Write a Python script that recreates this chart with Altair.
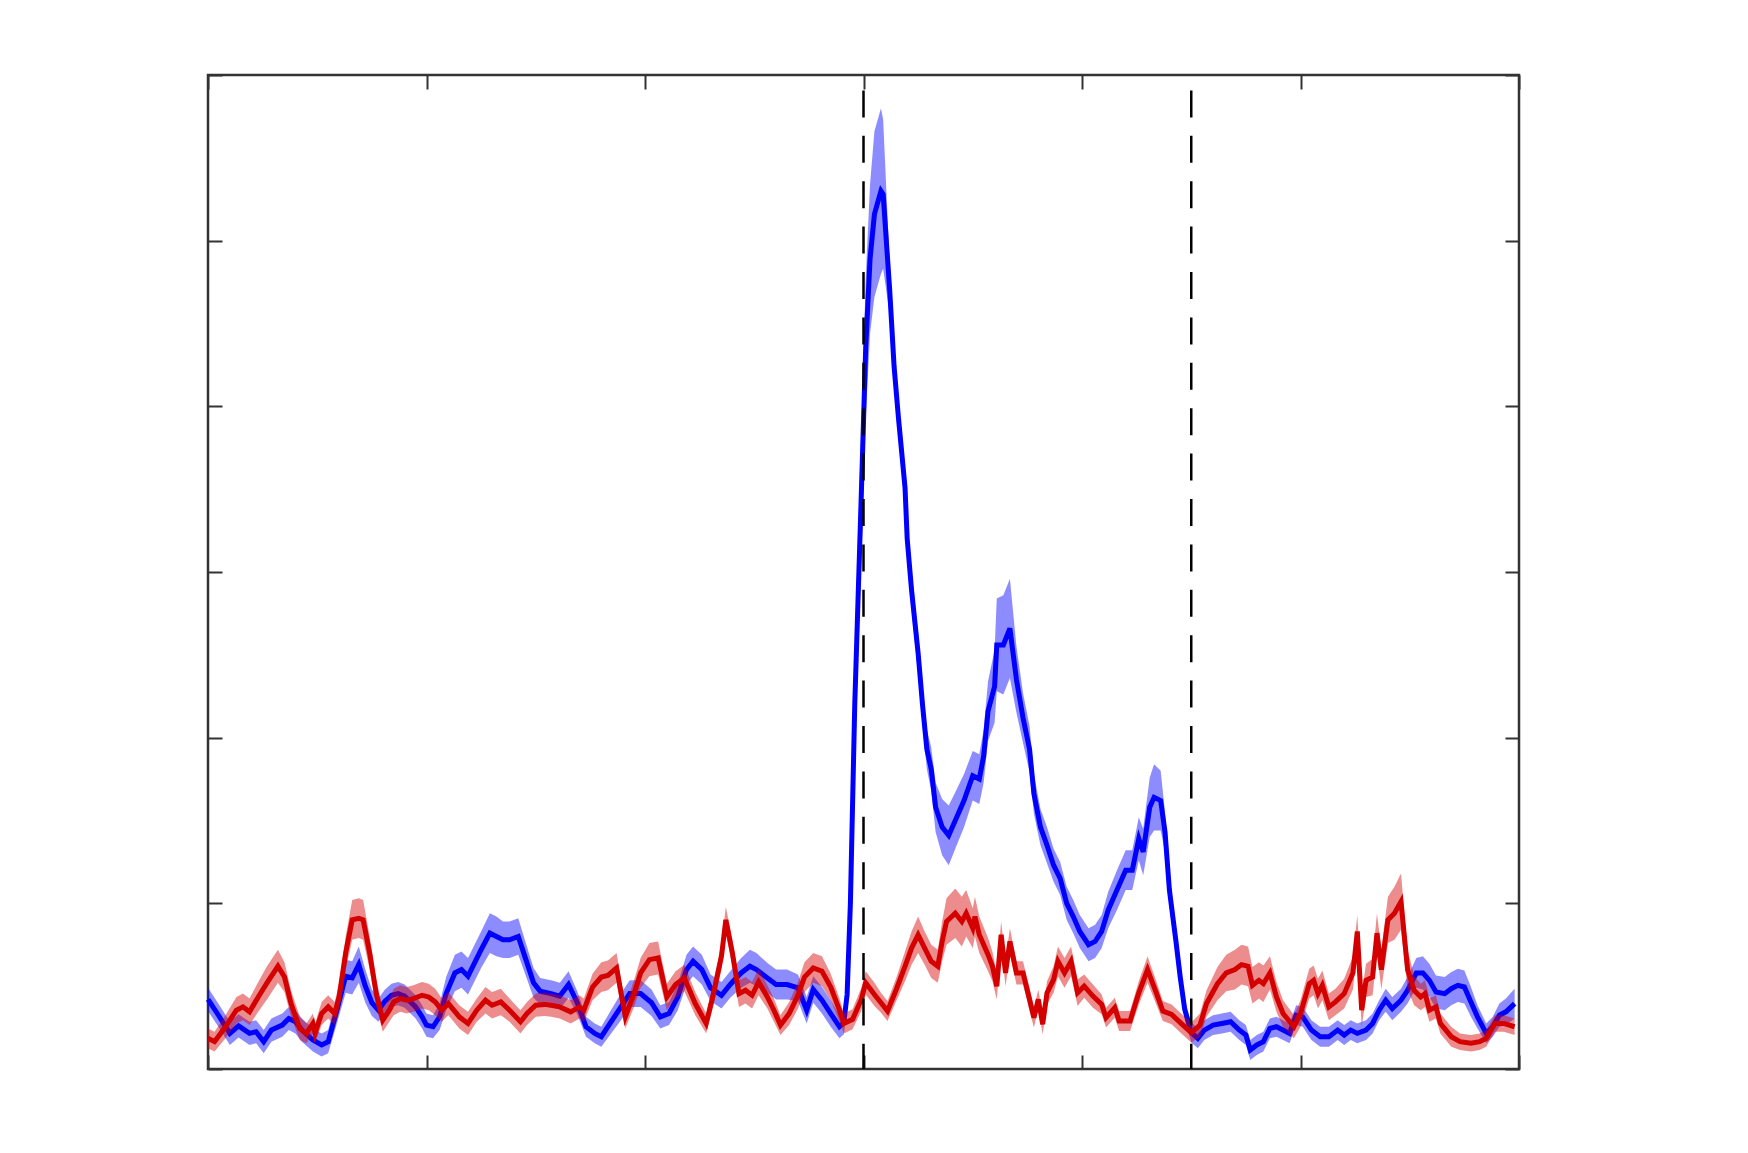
import altair as alt
import pandas as pd

# ---- data (x in 0..6 units, y in 0..6 units) ----
blue_x = [0.00, 0.05, 0.10, 0.14, 0.19, 0.22, 0.255, 0.29, 0.34, 0.37, 0.40, 0.43, 0.48, 0.52, 0.55, 0.59,
          0.63, 0.66, 0.69, 0.72, 0.75, 0.78, 0.81, 0.84, 0.87, 0.90, 0.95, 0.98, 1.00, 1.03, 1.06, 1.09,
          1.13, 1.16, 1.19, 1.22, 1.25, 1.29, 1.32, 1.35, 1.38, 1.42, 1.45, 1.49, 1.52, 1.57, 1.61, 1.65,
          1.69, 1.73, 1.77, 1.80, 1.84, 1.89, 1.93, 1.98, 2.03, 2.07, 2.11, 2.15, 2.19, 2.22, 2.26, 2.30,
          2.35, 2.39, 2.44, 2.48, 2.51, 2.56, 2.60, 2.65, 2.70, 2.74, 2.77, 2.81, 2.85, 2.89, 2.91, 2.925,
          2.94, 2.96, 2.99, 3.01, 3.03, 3.05, 3.08, 3.09, 3.12, 3.14, 3.16, 3.19, 3.20, 3.22, 3.25, 3.27,
          3.29, 3.31, 3.33, 3.36, 3.39, 3.42, 3.46, 3.50, 3.53, 3.55, 3.57, 3.60, 3.61, 3.64, 3.67, 3.70,
          3.73, 3.76, 3.78, 3.81, 3.84, 3.87, 3.90, 3.93, 3.96, 3.99, 4.03, 4.06, 4.09, 4.12, 4.16, 4.20,
          4.23, 4.26, 4.28, 4.31, 4.33, 4.36, 4.38, 4.40, 4.43, 4.45, 4.47, 4.50, 4.53, 4.56, 4.60, 4.64,
          4.68, 4.72, 4.75, 4.77, 4.80, 4.83, 4.86, 4.89, 4.92, 4.95, 4.98, 5.01, 5.05, 5.09, 5.13, 5.17,
          5.20, 5.23, 5.26, 5.30, 5.33, 5.36, 5.39, 5.42, 5.46, 5.49, 5.53, 5.56, 5.59, 5.62, 5.66, 5.69,
          5.72, 5.75, 5.78, 5.81, 5.85, 5.88, 5.91, 5.94, 5.98]
blue_y = [0.42, 0.32, 0.215, 0.26, 0.215, 0.225, 0.165, 0.235, 0.265, 0.305, 0.285, 0.235, 0.175, 0.145, 0.165, 0.355,
          0.56, 0.55, 0.63, 0.50, 0.40, 0.355, 0.41, 0.445, 0.455, 0.44, 0.375, 0.315, 0.265, 0.255, 0.315, 0.455,
          0.58, 0.60, 0.56, 0.64, 0.72, 0.82, 0.80, 0.78, 0.78, 0.80, 0.68, 0.52, 0.47, 0.455, 0.44, 0.51,
          0.40, 0.255, 0.215, 0.195, 0.275, 0.375, 0.455, 0.455, 0.40, 0.315, 0.335, 0.435, 0.60, 0.65, 0.60, 0.49,
          0.445, 0.51, 0.58, 0.62, 0.60, 0.55, 0.51, 0.51, 0.49, 0.355, 0.48, 0.415, 0.335, 0.255, 0.28, 0.45,
          1.0, 2.2, 3.47, 4.35, 4.89, 5.16, 5.30, 5.28, 4.70, 4.24, 3.93, 3.51, 3.20, 2.89, 2.51, 2.20,
          1.93, 1.81, 1.58, 1.46, 1.41, 1.50, 1.62, 1.77, 1.75, 1.89, 2.16, 2.31, 2.56, 2.56, 2.66, 2.35,
          2.12, 1.93, 1.66, 1.46, 1.35, 1.23, 1.15, 1.00, 0.92, 0.83, 0.75, 0.77, 0.83, 0.96, 1.08, 1.20,
          1.20, 1.39, 1.31, 1.58, 1.64, 1.62, 1.43, 1.08, 0.77, 0.55, 0.36, 0.22, 0.185, 0.235, 0.265, 0.275,
          0.285, 0.235, 0.205, 0.115, 0.145, 0.165, 0.245, 0.255, 0.235, 0.215, 0.325, 0.315, 0.235, 0.195, 0.195, 0.235,
          0.205, 0.235, 0.215, 0.235, 0.275, 0.355, 0.415, 0.365, 0.415, 0.475, 0.58, 0.58, 0.535, 0.465, 0.455, 0.485,
          0.505, 0.495, 0.405, 0.315, 0.215, 0.255, 0.325, 0.345, 0.395]
blue_sem = [0.07, 0.07, 0.07, 0.07, 0.07, 0.07, 0.07, 0.07, 0.07, 0.07, 0.07, 0.07, 0.07, 0.07, 0.07, 0.08,
            0.10, 0.10, 0.11, 0.10, 0.08, 0.07, 0.07, 0.07, 0.07, 0.07, 0.07, 0.07, 0.07, 0.07, 0.08, 0.10,
            0.11, 0.11, 0.11, 0.11, 0.11, 0.12, 0.12, 0.11, 0.11, 0.11, 0.10, 0.09, 0.08, 0.08, 0.08, 0.08,
            0.07, 0.06, 0.06, 0.06, 0.07, 0.08, 0.08, 0.08, 0.08, 0.07, 0.07, 0.08, 0.09, 0.09, 0.09, 0.08,
            0.08, 0.08, 0.09, 0.10, 0.10, 0.09, 0.09, 0.09, 0.08, 0.08, 0.08, 0.08, 0.08, 0.07, 0.07, 0.10,
            0.20, 0.30, 0.40, 0.42, 0.45, 0.50, 0.50, 0.45, 0.15, 0.12, 0.12, 0.12, 0.12, 0.12, 0.12, 0.12,
            0.12, 0.13, 0.15, 0.17, 0.18, 0.17, 0.16, 0.15, 0.15, 0.16, 0.18, 0.22, 0.28, 0.30, 0.30, 0.20,
            0.15, 0.14, 0.12, 0.11, 0.11, 0.10, 0.10, 0.10, 0.10, 0.10, 0.10, 0.10, 0.10, 0.11, 0.12, 0.12,
            0.12, 0.13, 0.14, 0.18, 0.20, 0.18, 0.12, 0.10, 0.08, 0.07, 0.06, 0.06, 0.06, 0.06, 0.06, 0.06,
            0.06, 0.06, 0.06, 0.06, 0.06, 0.06, 0.06, 0.06, 0.06, 0.06, 0.06, 0.06, 0.06, 0.06, 0.06, 0.06,
            0.06, 0.06, 0.06, 0.06, 0.06, 0.06, 0.07, 0.07, 0.07, 0.08, 0.09, 0.10, 0.10, 0.10, 0.10, 0.10,
            0.10, 0.10, 0.09, 0.07, 0.06, 0.06, 0.07, 0.08, 0.09]

red_x = [0.00, 0.03, 0.08, 0.13, 0.16, 0.19, 0.23, 0.27, 0.32, 0.35, 0.38, 0.42, 0.45, 0.48, 0.49, 0.52,
         0.55, 0.58, 0.60, 0.63, 0.66, 0.69, 0.71, 0.74, 0.77, 0.80, 0.83, 0.85, 0.88, 0.91, 0.94, 0.98,
         1.01, 1.04, 1.07, 1.10, 1.15, 1.19, 1.23, 1.27, 1.30, 1.34, 1.38, 1.43, 1.46, 1.50, 1.54, 1.57,
         1.61, 1.66, 1.70, 1.72, 1.76, 1.80, 1.83, 1.87, 1.91, 1.95, 1.98, 2.02, 2.06, 2.10, 2.14, 2.18,
         2.23, 2.28, 2.31, 2.35, 2.37, 2.40, 2.43, 2.46, 2.49, 2.52, 2.56, 2.59, 2.62, 2.66, 2.70, 2.73,
         2.77, 2.81, 2.85, 2.89, 2.91, 2.95, 2.99, 3.01, 3.05, 3.08, 3.11, 3.15, 3.19, 3.22, 3.25, 3.28,
         3.31, 3.34, 3.36, 3.38, 3.42, 3.45, 3.47, 3.50, 3.51, 3.53, 3.57, 3.59, 3.61, 3.63, 3.65, 3.67,
         3.70, 3.73, 3.76, 3.78, 3.80, 3.82, 3.84, 3.87, 3.89, 3.92, 3.95, 3.98, 4.01, 4.05, 4.09, 4.11,
         4.15, 4.17, 4.22, 4.26, 4.30, 4.34, 4.37, 4.41, 4.45, 4.50, 4.54, 4.57, 4.62, 4.66, 4.70, 4.73,
         4.76, 4.78, 4.81, 4.83, 4.86, 4.89, 4.92, 4.97, 5.00, 5.04, 5.06, 5.08, 5.10, 5.13, 5.16, 5.20,
         5.24, 5.26, 5.28, 5.30, 5.33, 5.35, 5.37, 5.40, 5.43, 5.46, 5.49, 5.52, 5.55, 5.57, 5.59, 5.62,
         5.64, 5.69, 5.73, 5.78, 5.82, 5.85, 5.89, 5.93, 5.98]
red_y = [0.185, 0.165, 0.255, 0.355, 0.375, 0.345, 0.435, 0.52, 0.62, 0.555, 0.395, 0.245, 0.215, 0.275, 0.215, 0.335,
         0.375, 0.335, 0.435, 0.70, 0.90, 0.91, 0.90, 0.70, 0.455, 0.295, 0.355, 0.405, 0.425, 0.415, 0.425, 0.445,
         0.435, 0.405, 0.355, 0.395, 0.315, 0.275, 0.355, 0.415, 0.385, 0.405, 0.355, 0.285, 0.335, 0.385, 0.39, 0.385,
         0.375, 0.345, 0.375, 0.355, 0.495, 0.555, 0.565, 0.61, 0.315, 0.455, 0.58, 0.66, 0.67, 0.435, 0.51, 0.55,
         0.395, 0.275, 0.435, 0.68, 0.90, 0.70, 0.455, 0.475, 0.445, 0.525, 0.435, 0.355, 0.265, 0.335, 0.445, 0.555,
         0.61, 0.59, 0.495, 0.355, 0.275, 0.30, 0.42, 0.52, 0.45, 0.40, 0.35, 0.48, 0.62, 0.73, 0.81, 0.73,
         0.65, 0.62, 0.77, 0.89, 0.94, 0.89, 0.94, 0.85, 0.92, 0.81, 0.69, 0.62, 0.50, 0.81, 0.58, 0.77,
         0.58, 0.58, 0.42, 0.31, 0.42, 0.27, 0.46, 0.54, 0.65, 0.58, 0.65, 0.46, 0.50, 0.44, 0.39, 0.31,
         0.37, 0.29, 0.29, 0.46, 0.60, 0.46, 0.35, 0.33, 0.28, 0.22, 0.265, 0.395, 0.515, 0.58, 0.60, 0.63,
         0.62, 0.505, 0.535, 0.515, 0.58, 0.435, 0.335, 0.255, 0.335, 0.515, 0.535, 0.455, 0.505, 0.375, 0.405, 0.455,
         0.58, 0.83, 0.355, 0.535, 0.555, 0.82, 0.60, 0.90, 0.94, 1.01, 0.60, 0.475, 0.435, 0.455, 0.355, 0.375,
         0.275, 0.195, 0.165, 0.155, 0.165, 0.185, 0.275, 0.275, 0.255]
red_sem = [0.06, 0.06, 0.07, 0.08, 0.08, 0.08, 0.09, 0.10, 0.10, 0.09, 0.08, 0.07, 0.06, 0.06, 0.06, 0.07,
           0.07, 0.07, 0.08, 0.10, 0.12, 0.12, 0.12, 0.10, 0.08, 0.07, 0.07, 0.08, 0.08, 0.08, 0.08, 0.08,
           0.08, 0.08, 0.07, 0.07, 0.07, 0.07, 0.07, 0.08, 0.08, 0.08, 0.07, 0.07, 0.07, 0.07, 0.07, 0.07,
           0.07, 0.07, 0.07, 0.07, 0.08, 0.09, 0.09, 0.09, 0.07, 0.08, 0.09, 0.10, 0.10, 0.08, 0.08, 0.08,
           0.07, 0.06, 0.07, 0.08, 0.08, 0.08, 0.08, 0.08, 0.08, 0.08, 0.07, 0.07, 0.06, 0.07, 0.08, 0.09,
           0.09, 0.09, 0.08, 0.07, 0.06, 0.06, 0.07, 0.07, 0.07, 0.06, 0.06, 0.07, 0.09, 0.10, 0.11, 0.10,
           0.10, 0.10, 0.12, 0.14, 0.15, 0.15, 0.14, 0.12, 0.12, 0.11, 0.10, 0.09, 0.08, 0.08, 0.08, 0.08,
           0.07, 0.07, 0.07, 0.06, 0.06, 0.06, 0.07, 0.08, 0.09, 0.09, 0.09, 0.08, 0.07, 0.07, 0.06, 0.06,
           0.06, 0.06, 0.06, 0.07, 0.08, 0.07, 0.06, 0.06, 0.06, 0.06, 0.07, 0.08, 0.10, 0.11, 0.12, 0.12,
           0.12, 0.11, 0.11, 0.11, 0.10, 0.09, 0.08, 0.07, 0.08, 0.09, 0.09, 0.09, 0.09, 0.08, 0.08, 0.09,
           0.10, 0.10, 0.10, 0.10, 0.11, 0.12, 0.12, 0.14, 0.16, 0.17, 0.12, 0.09, 0.08, 0.08, 0.07, 0.07,
           0.06, 0.06, 0.05, 0.05, 0.05, 0.05, 0.05, 0.05, 0.05]

event_x = [3.0, 4.5]
tick_values = [0, 1, 2, 3, 4, 5, 6]

W, H = 1311, 994
BLUE = "#0000FF"
RED = "#D40000"
AX = "#333333"


def frame(xs, ys, sems):
    return pd.DataFrame({
        "x": xs, "y": ys,
        "lo": [a - b for a, b in zip(ys, sems)],
        "hi": [a + b for a, b in zip(ys, sems)],
    })


blue_df = frame(blue_x, blue_y, blue_sem)
red_df = frame(red_x, red_y, red_sem)
ev_df = pd.DataFrame({"x": event_x})

xs = alt.Scale(domain=[0, 6], nice=False, zero=False)
ys = alt.Scale(domain=[0, 6], nice=False, zero=False)


def ax(orient):
    return alt.Axis(orient=orient, values=tick_values, labels=False, title=None,
                    domain=False, grid=False, ticks=True, tickSize=14, offset=-14,
                    tickColor=AX, tickWidth=2)


blue_band = alt.Chart(blue_df).mark_area(color=BLUE, opacity=0.45).encode(
    x=alt.X("x:Q", scale=xs, axis=ax("bottom")),
    y=alt.Y("lo:Q", scale=ys, axis=ax("left")),
    y2="hi:Q",
)
blue_line = alt.Chart(blue_df).mark_line(color=BLUE, strokeWidth=5).encode(
    x=alt.X("x:Q", scale=xs, axis=None),
    y=alt.Y("y:Q", scale=ys, axis=None),
)
red_band = alt.Chart(red_df).mark_area(color=RED, opacity=0.45).encode(
    x=alt.X("x:Q", scale=xs, axis=None),
    y=alt.Y("lo:Q", scale=ys, axis=None),
    y2="hi:Q",
)
red_line = alt.Chart(red_df).mark_line(color=RED, strokeWidth=5).encode(
    x=alt.X("x:Q", scale=xs, axis=ax("top")),
    y=alt.Y("y:Q", scale=ys, axis=ax("right")),
)
events = alt.Chart(ev_df).mark_rule(color="black", strokeWidth=2.5,
                                    strokeDash=[27, 18.4], strokeDashOffset=30).encode(
    x=alt.X("x:Q", scale=xs, axis=None),
    y=alt.value(0),
    y2=alt.value(H),
)

chart = alt.layer(blue_band, blue_line, red_band, red_line, events).resolve_axis(
    x="independent", y="independent"
).properties(
    width=W, height=H,
    autosize=alt.AutoSizeParams(type="none"),
    padding={"left": 200, "top": 67, "right": 20, "bottom": 20},
    background="white",
).configure_view(stroke=AX, strokeWidth=2.5)

chart.save("out.html", embed_options={"renderer": "svg", "actions": False})
